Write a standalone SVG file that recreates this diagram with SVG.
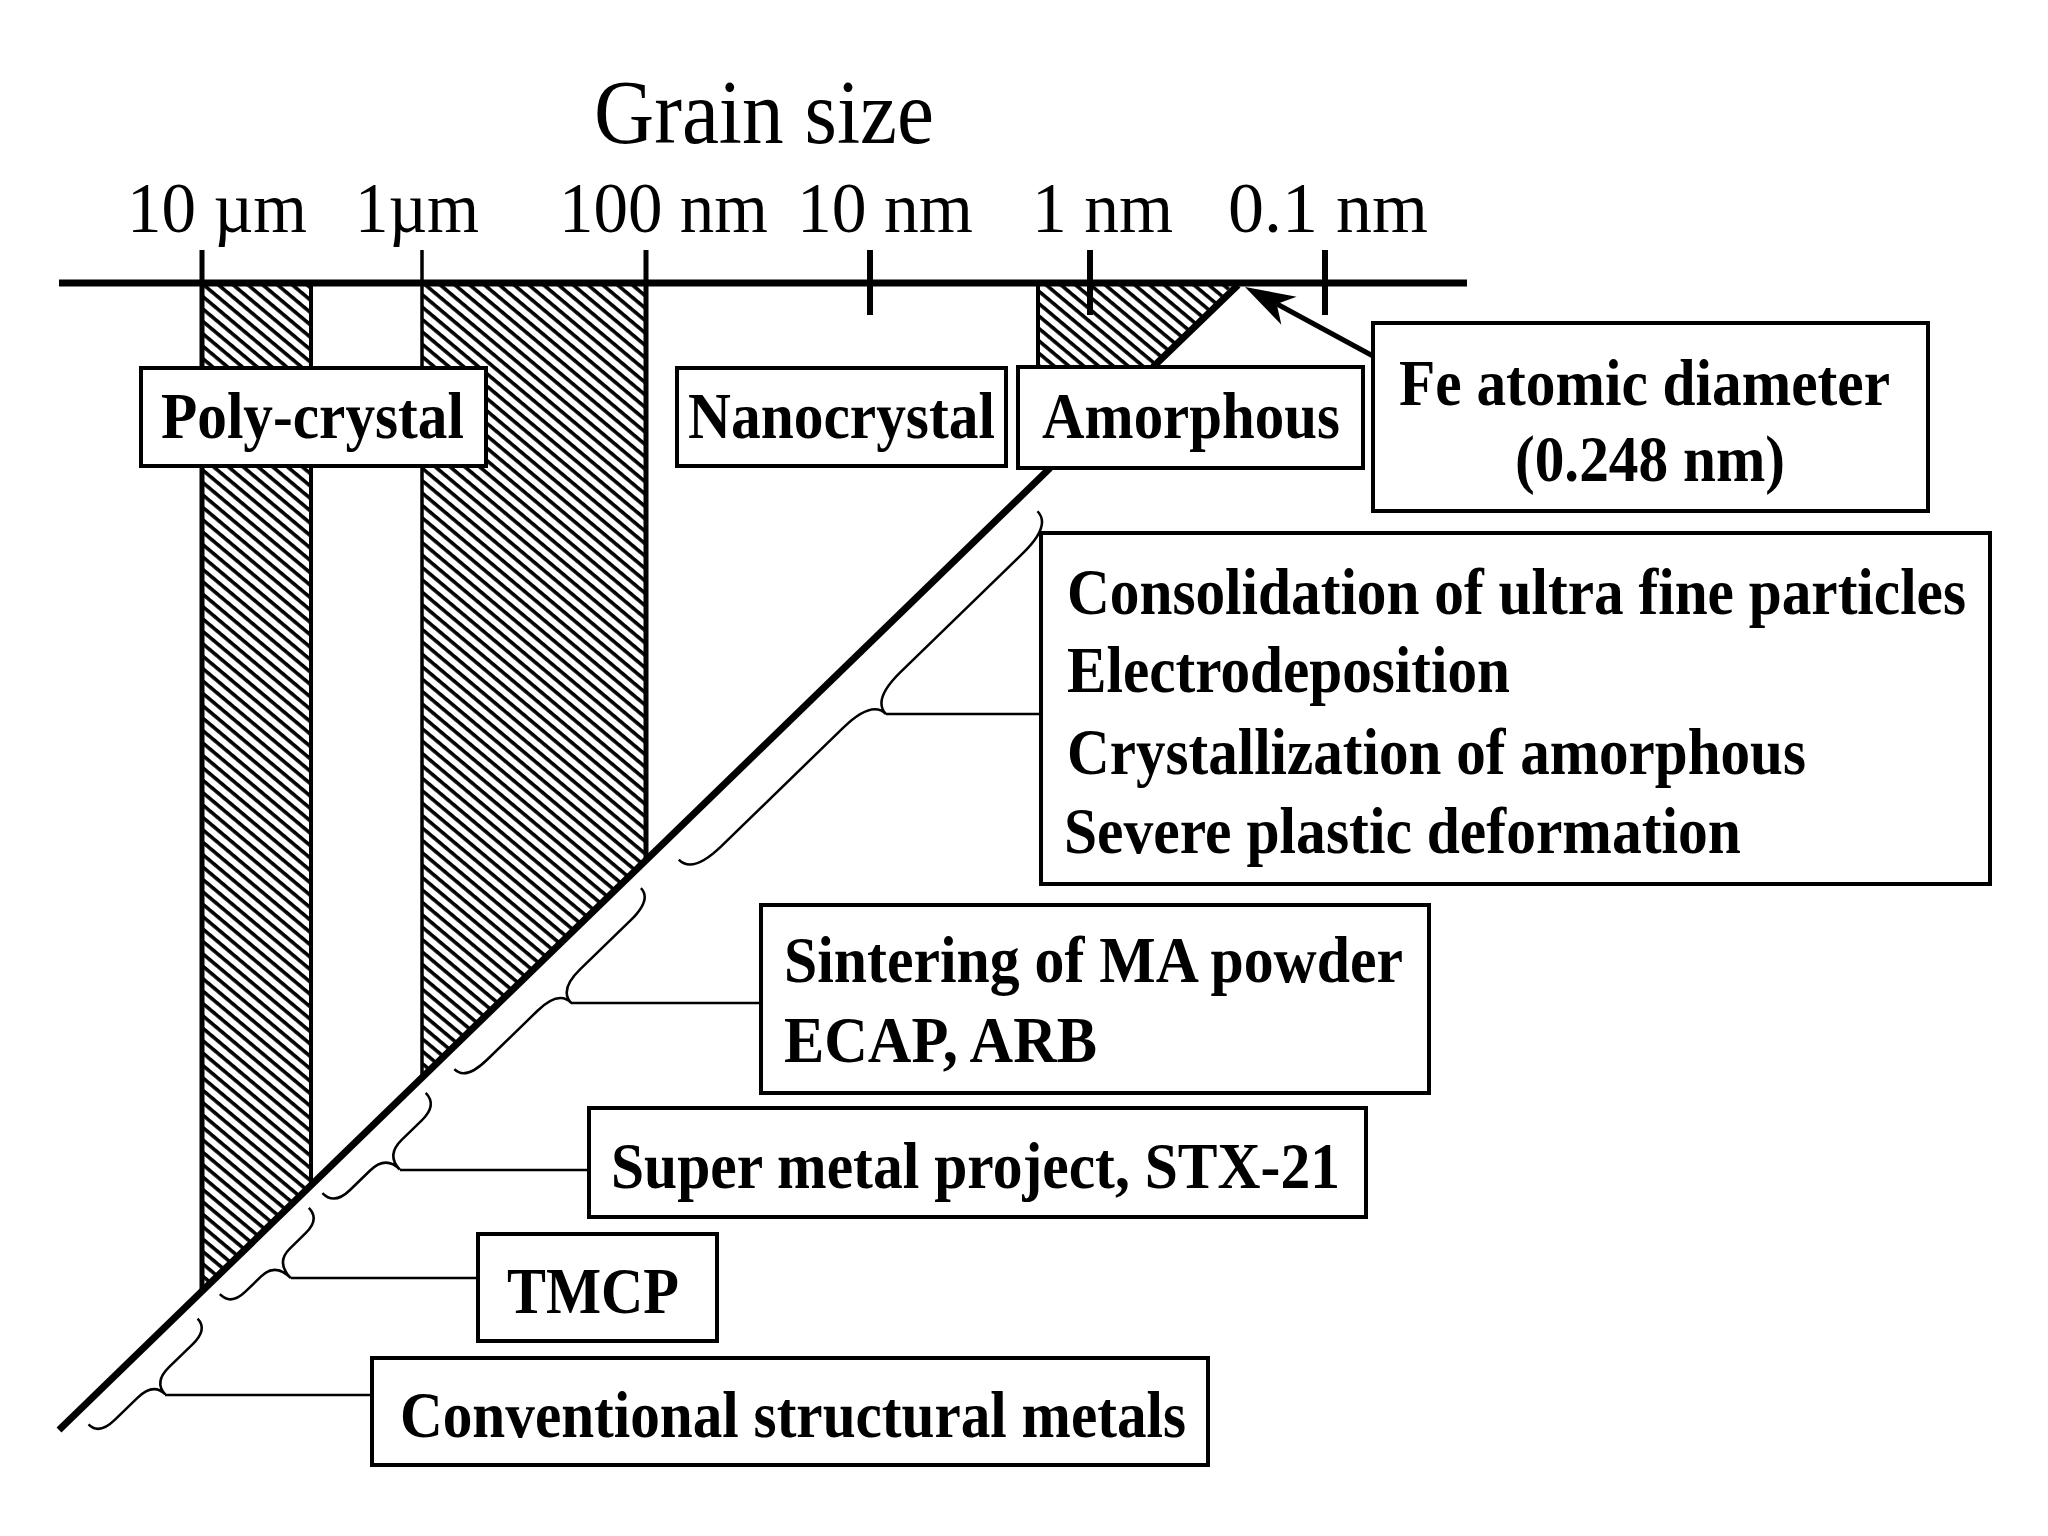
<svg xmlns="http://www.w3.org/2000/svg" width="2048" height="1536" viewBox="0 0 2048 1536">
<style>
.box{fill:#fff;stroke:#000;stroke-width:4}
.lbl{font-family:"Liberation Serif","Times New Roman",serif;font-weight:bold;font-size:65px;fill:#000}
.ax{font-family:"Liberation Serif","Times New Roman",serif;font-size:71px;fill:#000}
.ttl{font-family:"Liberation Serif","Times New Roman",serif;font-size:91px;fill:#000}
.brace{fill:none;stroke:#000;stroke-width:2.5}
.lead{stroke:#000;stroke-width:2.5;fill:none}
.edge{stroke:#000;fill:none}
.hatch{fill:url(#hatch)}
</style>
<defs>
<pattern id="hatch" patternUnits="userSpaceOnUse" width="10" height="9.5" patternTransform="rotate(40)">
<rect x="0" y="0" width="10" height="9.5" fill="#fff"/>
<rect x="0" y="0" width="10" height="3.6" fill="#000"/>
</pattern>
</defs>
<rect width="2048" height="1536" fill="#fff"/>

<g id="hatched-bands">
<polygon class="hatch" points="202,286 311,286 311,1183 202,1289"/>
<polygon class="hatch" points="422,286 646,286 646,858 422,1075.5"/>
<polygon class="hatch" points="1038,286 1232,286 1151.6,367 1038,367"/>
<line class="edge" x1="202" y1="250" x2="202" y2="1289" stroke-width="5"/>
<line class="edge" x1="311" y1="283" x2="311" y2="1183" stroke-width="4"/>
<line class="edge" x1="422" y1="250" x2="422" y2="1075" stroke-width="3.5"/>
<line class="edge" x1="646" y1="250" x2="646" y2="858" stroke-width="5"/>
<line class="edge" x1="1038" y1="283" x2="1038" y2="367" stroke-width="4"/>
</g>

<g id="axis">
<line class="edge" x1="59" y1="283" x2="1467" y2="283" stroke-width="7"/>
<line class="edge" x1="870" y1="250" x2="870" y2="315" stroke-width="6"/>
<line class="edge" x1="1090" y1="250" x2="1090" y2="315" stroke-width="6"/>
<line class="edge" x1="1325" y1="250" x2="1325" y2="315" stroke-width="6"/>
<text class="ttl" x="594" y="143" textLength="340" lengthAdjust="spacingAndGlyphs">Grain size</text>
<text class="ax" x="127" y="232" textLength="180" lengthAdjust="spacingAndGlyphs">10 µm</text>
<text class="ax" x="355" y="232" textLength="124" lengthAdjust="spacingAndGlyphs">1µm</text>
<text class="ax" x="559" y="232" textLength="209" lengthAdjust="spacingAndGlyphs">100 nm</text>
<text class="ax" x="797" y="232" textLength="176" lengthAdjust="spacingAndGlyphs">10 nm</text>
<text class="ax" x="1032" y="232" textLength="141" lengthAdjust="spacingAndGlyphs">1 nm</text>
<text class="ax" x="1228" y="232" textLength="200" lengthAdjust="spacingAndGlyphs">0.1 nm</text>
</g>

<g id="connectors">
<line class="edge" x1="59" y1="1430" x2="1050" y2="468" stroke-width="7"/>
<line class="edge" x1="1153" y1="367" x2="1238" y2="285" stroke-width="7"/>
<path class="brace" transform="translate(841.4,668.2) rotate(-44.16)" d="M-250,24 Q-250,44 -210,44 L-40,44 Q0,44 0,64 Q0,44 40,44 L210,44 Q250,44 250,24"/>
<path class="brace" transform="translate(535.1,965.7) rotate(-44.16)" d="M-130,18 Q-130,34 -100,34 L-30,34 Q0,34 0,52 Q0,34 30,34 L100,34 Q130,34 130,18"/>
<path class="brace" transform="translate(363.6,1132.2) rotate(-44.16)" d="M-72,15 Q-72,32 -50,32 L-22,32 Q0,32 0,52 Q0,32 22,32 L50,32 Q72,32 72,15"/>
<path class="brace" transform="translate(253.2,1239.5) rotate(-44.16)" d="M-62,16 Q-62,32 -42,32 L-20,32 Q0,32 0,54 Q0,32 20,32 L42,32 Q62,32 62,16"/>
<path class="brace" transform="translate(130.5,1358.6) rotate(-44.16)" d="M-76,18 Q-76,33 -54,33 L-22,33 Q0,33 0,50 Q0,33 22,33 L54,33 Q76,33 76,18"/>
<line class="lead" x1="886" y1="714" x2="1041" y2="714"/>
<line class="lead" x1="571" y1="1003" x2="761" y2="1003"/>
<line class="lead" x1="400" y1="1170" x2="589" y2="1170"/>
<line class="lead" x1="291" y1="1278" x2="478" y2="1278"/>
<line class="lead" x1="165" y1="1395" x2="372" y2="1395"/>
<line class="edge" x1="1373" y1="356" x2="1277" y2="304" stroke-width="5"/>
<polygon points="1245,287 1296.6,296.7 1276.7,304.1 1281.4,324.8" fill="#000"/>
</g>

<g id="poly-crystal">
<rect class="box" x="141" y="368" width="345" height="98"/>
<text class="lbl" x="161" y="438" textLength="303" lengthAdjust="spacingAndGlyphs">Poly-crystal</text>
</g>
<g id="nanocrystal">
<rect class="box" x="677" y="368" width="329" height="98"/>
<text class="lbl" x="688" y="438" textLength="307" lengthAdjust="spacingAndGlyphs">Nanocrystal</text>
</g>
<g id="amorphous">
<rect class="box" x="1018" y="367" width="345" height="101"/>
<text class="lbl" x="1042" y="438" font-size="63" textLength="298" lengthAdjust="spacingAndGlyphs">Amorphous</text>
</g>
<g id="fe-diameter">
<rect class="box" x="1373" y="323" width="555" height="188"/>
<text class="lbl" x="1399" y="405" textLength="491" lengthAdjust="spacingAndGlyphs">Fe atomic diameter</text>
<text class="lbl" x="1515" y="481" textLength="270" lengthAdjust="spacingAndGlyphs">(0.248 nm)</text>
</g>
<g id="nano-methods">
<rect class="box" x="1041" y="533" width="949" height="351"/>
<text class="lbl" x="1067" y="614" font-size="61" textLength="899" lengthAdjust="spacingAndGlyphs">Consolidation of ultra fine particles</text>
<text class="lbl" x="1067" y="692" textLength="443" lengthAdjust="spacingAndGlyphs">Electrodeposition</text>
<text class="lbl" x="1067" y="774" textLength="739" lengthAdjust="spacingAndGlyphs">Crystallization of amorphous</text>
<text class="lbl" x="1064" y="853" textLength="677" lengthAdjust="spacingAndGlyphs">Severe plastic deformation</text>
</g>
<g id="sintering">
<rect class="box" x="761" y="905" width="668" height="188"/>
<text class="lbl" x="784" y="982" textLength="619" lengthAdjust="spacingAndGlyphs">Sintering of MA powder</text>
<text class="lbl" x="784" y="1062" textLength="313" lengthAdjust="spacingAndGlyphs">ECAP, ARB</text>
</g>
<g id="super-metal">
<rect class="box" x="589" y="1108" width="777" height="109"/>
<text class="lbl" x="611" y="1188" textLength="729" lengthAdjust="spacingAndGlyphs">Super metal project, STX-21</text>
</g>
<g id="tmcp">
<rect class="box" x="478" y="1234" width="239" height="107"/>
<text class="lbl" x="507" y="1313" textLength="172" lengthAdjust="spacingAndGlyphs">TMCP</text>
</g>
<g id="conventional">
<rect class="box" x="372" y="1358" width="836" height="107"/>
<text class="lbl" x="400" y="1437" textLength="786" lengthAdjust="spacingAndGlyphs">Conventional structural metals</text>
</g>
</svg>
